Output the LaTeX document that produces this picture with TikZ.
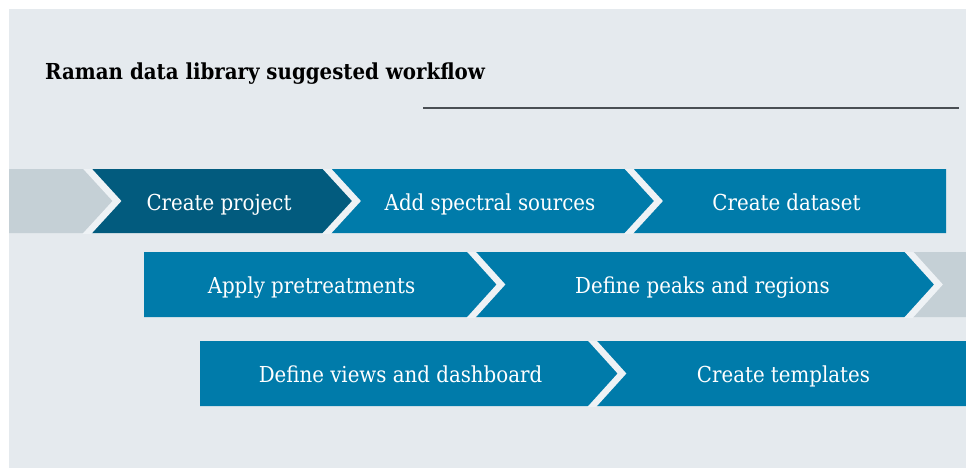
\documentclass[tikz,border=0pt]{standalone}
\usepackage{fontspec}
\newfontfamily\stepfont{DejaVu Serif Condensed}
\newfontfamily\titlefont{DejaVu Serif Condensed}
\definecolor{bgc}{HTML}{E5EAEE}
\definecolor{gapc}{HTML}{EEF2F5}
\definecolor{darkc}{HTML}{025B7E}
\definecolor{bluec}{HTML}{007BAA}
\definecolor{grayc}{HTML}{C5D0D6}
\definecolor{linec}{HTML}{4A4F54}
\begin{document}
\begin{tikzpicture}[x=1pt,y=-1pt,
  lbl/.style={text=white, font=\stepfont\fontsize{22}{26}\selectfont, anchor=base, inner sep=0pt},
  gapline/.style={draw=gapc, line width=6.5pt, line join=miter},
  ttl/.style={text=black, font=\titlefont\bfseries\fontsize{22}{26}\selectfont, anchor=base west, inner sep=0pt}]
\useasboundingbox (0,0) rectangle (966,468);
\fill[white] (0,0) rectangle (966,468);
\fill[bgc] (9,9) rectangle (966,468);
\node[ttl] (title) at (45,80) {Raman data library suggested workflow};
\coordinate (l1) at (423,108);
\coordinate (l2) at (959,108);
\draw[linec, line width=1.5pt] (l1) -- (l2);
% row 1
\fill[grayc] (9,169)--(84,169)--(117,201)--(84,233)--(9,233)--cycle;
\fill[darkc] (84,169)--(323.5,169)--(356.5,201)--(323.5,233)--(84,233)--(117,201)--cycle;
\fill[bluec] (323.5,169)--(625.5,169)--(658.5,201)--(625.5,233)--(323.5,233)--(356.5,201)--cycle;
\fill[bluec] (625.5,169)--(946,169)--(946,233)--(625.5,233)--(658.5,201)--cycle;
\begin{scope}
\clip (9,169) rectangle (946,233);
\draw[gapline] (84,165)--(117,201)--(84,237);
\draw[gapline] (323.5,165)--(356.5,201)--(323.5,237);
\draw[gapline] (625.5,165)--(658.5,201)--(625.5,237);
\end{scope}
% row 2
\fill[bluec] (144,252)--(468,252)--(501,284.5)--(468,317)--(144,317)--cycle;
\fill[bluec] (468,252)--(905.5,252)--(938.5,284.5)--(905.5,317)--(468,317)--(501,284.5)--cycle;
\fill[grayc] (905.5,252)--(966,252)--(966,317)--(905.5,317)--(938.5,284.5)--cycle;
\begin{scope}
\clip (144,252) rectangle (966,317);
\draw[gapline] (468,248)--(501,284.5)--(468,321);
\draw[gapline] (905.5,248)--(938.5,284.5)--(905.5,321);
\end{scope}
% row 3
\fill[bluec] (200,341)--(589,341)--(622,373.5)--(589,406)--(200,406)--cycle;
\fill[bluec] (589,341)--(966,341)--(966,406)--(589,406)--(622,373.5)--cycle;
\begin{scope}
\clip (200,341) rectangle (966,406);
\draw[gapline] (589,337)--(622,373.5)--(589,410);
\end{scope}
% labels
\node[lbl] (s1) at (219,210) {Create project};
\node[lbl] (s2) at (490,210) {Add spectral sources};
\node[lbl] (s3) at (786.5,210) {Create dataset};
\node[lbl] (s4) at (311.5,293.5) {Apply pretreatments};
\node[lbl] (s5) at (702.5,293.5) {Define peaks and regions};
\node[lbl] (s6) at (400.5,382) {Define views and dashboard};
\node[lbl] (s7) at (783.5,382) {Create templates};
\end{tikzpicture}
\end{document}
